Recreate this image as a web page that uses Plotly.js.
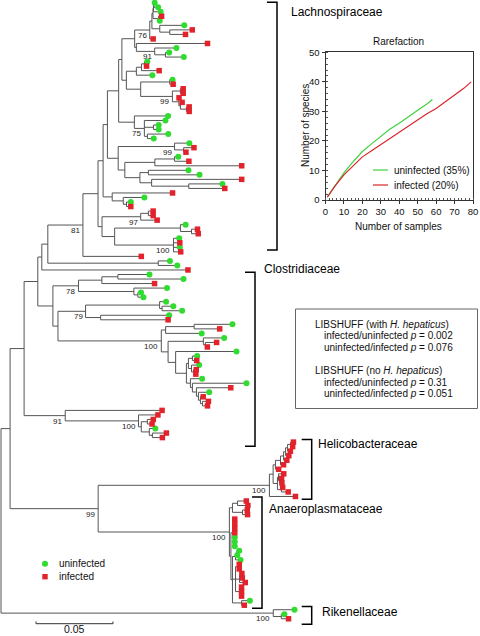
<!DOCTYPE html>
<html><head><meta charset="utf-8">
<script src="https://cdn.plot.ly/plotly-3.0.1.min.js"></script>
<style>html,body{margin:0;padding:0;background:#fff}#chart{width:480px;height:636px}</style>
</head><body><div id="chart"></div>
<script>
// ---------------- DATA ----------------
// Branch lengths in the Newick pieces are in 10^-3 substitutions per site.
const BRANCH_UNIT = 0.001;
// U = uninfected clone, I = infected clone; internal labels = bootstrap values
const lachnoTop = "(((((U:0.5,U:2.7):0.3,U:4.7):0.3,(I:2.0,U:0.8):3.6):0.7,(U:15.9,(I:14.6,I:10.2):6.5):5.1):1.4,I:2.2)76";
const lachno91 = "(I:46.2,(U:14.1,(U:2.4,U:11.9):7.0)91:11.9)";
const lachnoSmall = "(((U:1.8,I:1.3):2.0,I:11.5):3.3,U:10.4)";
const lachno99a = "((U:1.8,I:2.2):18.9,((I:1.8,I:1.8):5.2,(I:0.1,(I:1.1,(I:1.8,I:1.8):3.9):1.0):4.2)99:20.6)";
const lachno75 = "(U:21.9,(U:13.7,(U:3.4,U:3.4):5.9,(U:13.5,U:4.1):2.0)75:6.5)";
const lachno99b = "(U:9.6,(I:6.7,I:1.5):5.9)99";
const lachnoQ = "((U:2.4,I:9.3):12.8,I:56.4)";
const lachnoR = "((U:26.0,U:33.2):5.5,(I:58.5,(U:21.9,I:23.4):24.1):7.6)";
const lachnoZ = "(I:39.2,(U:13.7,(U:2.8,I:2.8):2.1):7.2)";
const lachno97 = "(((I:3.1,I:3.1):5.0,I:10.7)97:25.1,((U:3.4,(I:3.9,I:4.4):7.2):42.7,(U:3.7,I:4.1,U:4.1,I:4.7)100:38.2):8.2)";
const clost78 = "(((U:20.5,U:42.6):10.4,I:34.2):15.2,(U:21.5,(U:2.0,U:3.6):2.6):36.0)78";
const clost79 = "((U:4.2,(U:7.3,U:13.0):1.6):48.1,(U:44.5,I:43.8):9.8)79";
const clostA = "((U:24.9,I:16.6):18.5,U:23.4)";
const clostB = "(U:13.5,(I:7.3,I:1.3):1.3)";
const clostC = "(((U:3.1,I:2.8):2.6,(U:5.0,(I:1.8,I:1.5):1.3):2.0):1.3,(U:7.6,(U:35.1,(I:22.3,(U:7.0,(I:1.8,(I:3.9,I:3.3):1.3):1.3):1.3):2.6):1.3):2.6)";
const clade91 = "(I:62.9,(I:12.6,((I:3.9,I:3.1):3.9,(U:3.9,(I:9.1,I:6.5):2.0):5.2):1.8)100:47.6)91";
const helicoUp = "((((((I:1.8,I:1.3):2.0,I:1.8):1.3,I:2.1):1.3,I:2.1):2.0,I:2.0):3.3,I:2.1)";
const helicoLo = "((I:3.4,(I:1.3,I:1.5):0.7):0.7,(I:0.8,I:4.4):2.6)";
const anaeroTop = "((I:5.7,I:6.7):3.3,(I:3.1,I:3.3):6.5)";
const anaeroComb = "(I:0.5,I:0.5,I:0.5,I:0.5,U:0.5,U:0.5,U:0.5)";
const anaeroLowA = "((U:1.4,U:0.1):1.0,U:3.3)";
const anaeroLowB = "((I:1.1,I:1.1):1.3,((I:0.8,I:1.1):0.7,I:3.7):2.6,(I:1.3,I:1.3,I:1.3):2.6)";
const anaeroLowC = "(U:5.4,I:1.8)";
const rikenella = "(U:13.8,(U:2.0,I:4.7):5.2)100";

const rareSamplesUninf = [1, 5, 10, 15, 20, 25, 30, 35, 40, 45, 50, 55, 58];
const rareSpeciesUninf = [1, 4.8, 9.2, 13, 16.4, 19, 21.5, 24, 26, 28.3, 30.4, 32.5, 34];
const rareSamplesInf = [1, 5, 10, 15, 20, 25, 30, 35, 40, 45, 50, 55, 60, 65, 70, 75, 79];
const rareSpeciesInf = [1, 4.6, 8.5, 11.6, 14.6, 16.7, 18.8, 21, 23.1, 25.2, 27, 29.2, 31, 33.2, 35.5, 37.8, 40];
const rareNames = ['uninfected (35%)', 'infected (20%)'];

const cladeNames = ['Lachnospiraceae', 'Clostridiaceae', 'Helicobacteraceae', 'Anaeroplasmataceae', 'Rikenellaceae'];
const cladeTopLeaf = [-0.1, 59.5, 96.4, 109.1, 133.3];
const cladeBottomLeaf = [54.6, 97.9, 109.6, 133.7, 137.2];

const libshuffLines = [
  'LIBSHUFF (with <i>H. hepaticus</i>)',
  'infected/uninfected <i>p</i> = 0.002',
  'uninfected/infected <i>p</i> = 0.076',
  'LIBSHUFF (no <i>H. hepaticus</i>)',
  'infected/uninfected <i>p</i> = 0.31',
  'uninfected/infected <i>p</i> = 0.051'
];
const scaleBarLength = 0.05;
const groupNames = ['uninfected', 'infected'];

// ---------------- TREE ASSEMBLY ----------------
const nu133 = "(" + lachnoTop + ":9.8," + lachno91 + ":1.1)";
const n125 = "(" + lachnoSmall + ":6.5," + lachno99a + ":9.3)";
const n120 = "(" + nu133 + ":8.3," + n125 + ":2.9)";
const n117 = "(" + n120 + ":2.1," + lachno75 + ":10.2)";
const n123 = "(" + lachnoQ + ":19.5," + lachnoR + ":9.8)";
const n116 = "(" + lachno99b + ":36.6," + n123 + ":4.3)";
const n106 = "(" + n117 + ":7.3," + n116 + ":7.0)";
const n101 = "(" + n106 + ":2.8," + lachnoZ + ":5.9)";
const n96 = "(" + n101 + ":3.3," + lachno97 + ":2.6)";
const n81 = "(" + n96 + ":9.8,I:37.9)81";
const n46 = "(" + n81 + ":22.8,(U:7.6,U:12.4):71.7)";
const n40 = "(" + n46 + ":3.9,I:94.9)";
const n174 = "(U:39.5," + clostC + ":7.0)";
const n166 = "(" + clostB + ":22.9," + n174 + ":4.9)";
const n100c = "(" + clostA + ":2.8," + n166 + ":4.4)100";
const n56 = "(" + clost79 + ":17.9," + n100c + ":67.1)";
const nE = "(" + clost78 + ":16.6," + n56 + ":3.3)";
const nC = "(" + n40 + ":2.6," + nE + ":9.8)";
const nB = "(" + nC + ":8.9," + clade91 + ":26.7)";
const helico = "((" + helicoUp + ":1.5," + helicoLo + ":2.8):2.4,I:16.9)100";
const anaeroLow = "(" + anaeroLowA + ":2.0," + anaeroLowB + ":2.0," + anaeroLowC + ":5.9)";
const anaero = "(" + anaeroTop + ":2.0,(" + anaeroComb + ":2.0," + anaeroLow + ":1.0):1.0)100";
const n99 = "(" + helico + ":111.2," + anaero + ":85.2)99";
const nA = "(" + nB + ":9.1," + n99 + ":57.2)";
const treeNewick = "(" + nA + ":5.9," + rikenella + ":176.8);";

function parseNewick(s) {
  let i = 0;
  function node() {
    const n = {children: [], name: '', len: 0};
    if (s[i] === '(') {
      i++;
      while (true) {
        n.children.push(node());
        if (s[i] === ',') { i++; continue; }
        if (s[i] === ')') { i++; break; }
        break;
      }
    }
    let name = '';
    while (i < s.length && !',():;'.includes(s[i])) name += s[i++];
    n.name = name.trim();
    if (s[i] === ':') {
      i++; let num = '';
      while (i < s.length && !',();'.includes(s[i])) num += s[i++];
      n.len = parseFloat(num);
    }
    return n;
  }
  return node();
}
const root = parseNewick(treeNewick);
root.len = 0;
let leafCounter = 0;
function placeNodes(n, x0) {
  n.x = x0 + n.len * BRANCH_UNIT;
  if (!n.children.length) { n.y = leafCounter++; }
  else {
    n.children.forEach(c => placeNodes(c, n.x));
    n.y = (n.children[0].y + n.children[n.children.length - 1].y) / 2;
  }
}
placeNodes(root, 0);

const bx = [], by = [];
const ux = [], uy = [], ix = [], iy = [];
const boot = [];
function collect(n, px) {
  if (px !== null) { bx.push(px, n.x, null); by.push(n.y, n.y, null); }
  if (n.children.length) {
    bx.push(n.x, n.x, null);
    by.push(n.children[0].y, n.children[n.children.length - 1].y, null);
    n.children.forEach(c => collect(c, n.x));
    if (n.name) boot.push({x: n.x, y: n.y, t: n.name});
  } else {
    if (n.name === 'U') { ux.push(n.x); uy.push(n.y); } else { ix.push(n.x); iy.push(n.y); }
  }
}
collect(root, null);

// ---------------- FIGURE ----------------
const W = 480, H = 636;
const PX_PER_SUB = 77 / 0.05;          // from scale bar
const LEAF_PX = 4.53, LEAF0_PX = 2.7, ROOT_PX = 1;
const px = v => v / W, py = v => 1 - v / H;
const FONT = 'Liberation Sans, Arial, Helvetica, sans-serif';
const GREEN = '#2fdc2f', RED = '#e2232b';

const traces = [
  {type: 'scatter', mode: 'lines', x: bx, y: by, xaxis: 'x', yaxis: 'y',
   line: {color: '#555', width: 1}, hoverinfo: 'skip', showlegend: false},
  {type: 'scatter', mode: 'markers', x: ux, y: uy, name: groupNames[0], showlegend: false,
   marker: {symbol: 'circle', size: 6, color: GREEN, line: {width: 0}}},
  {type: 'scatter', mode: 'markers', x: ix, y: iy, name: groupNames[1], showlegend: false,
   marker: {symbol: 'square', size: 5.5, color: RED, line: {width: 0}}},
  {type: 'scatter', mode: 'lines', x: rareSamplesUninf, y: rareSpeciesUninf, xaxis: 'x2', yaxis: 'y2',
   name: rareNames[0], line: {color: '#3fd13f', width: 1.2}, showlegend: false},
  {type: 'scatter', mode: 'lines', x: rareSamplesInf, y: rareSpeciesInf, xaxis: 'x2', yaxis: 'y2',
   name: rareNames[1], line: {color: '#d8262e', width: 1.2}, showlegend: false}
];

const xr0 = -ROOT_PX / PX_PER_SUB, xr1 = (W - ROOT_PX) / PX_PER_SUB;
const yr0 = -LEAF0_PX / LEAF_PX, yr1 = (H - LEAF0_PX) / LEAF_PX;

const shapes = [], annotations = [];
boot.forEach(b => annotations.push({xref: 'x', yref: 'y', x: b.x, y: b.y, text: b.t, showarrow: false,
  xanchor: 'right', yanchor: 'top', xshift: -1, yshift: 1, font: {family: FONT, size: 8, color: '#222'}}));

const bracketX = [277, 255, 311.7, 262, 311.7];
const labelX = [289, 262, 316, 266.7, 320];
const labelY = [12, 268.5, 444.3, 509, 612.3];
cladeNames.forEach((name, k) => {
  const xb = px(bracketX[k]), xt = px(bracketX[k] - 10);
  shapes.push({type: 'path', xref: 'paper', yref: 'y',
    path: `M ${xt} ${cladeTopLeaf[k]} L ${xb} ${cladeTopLeaf[k]} L ${xb} ${cladeBottomLeaf[k]} L ${xt} ${cladeBottomLeaf[k]}`,
    line: {color: '#000', width: 1.5}});
  annotations.push({xref: 'paper', yref: 'paper', x: px(labelX[k]), y: py(labelY[k]), text: name,
    showarrow: false, xanchor: 'left', yanchor: 'middle', font: {family: FONT, size: 12, color: '#000'}});
});

const sbX0 = (36 - ROOT_PX) / PX_PER_SUB;
shapes.push({type: 'path', xref: 'x', yref: 'paper',
  path: `M ${sbX0} ${py(621.5)} L ${sbX0} ${py(623.7)} L ${sbX0 + scaleBarLength} ${py(623.7)} L ${sbX0 + scaleBarLength} ${py(621.5)}`,
  line: {color: '#333', width: 1}});
annotations.push({xref: 'x', yref: 'paper', x: sbX0 + scaleBarLength / 2, y: py(636), text: String(scaleBarLength),
  showarrow: false, xanchor: 'center', yanchor: 'bottom', borderpad: 0, font: {family: FONT, size: 10.5, color: '#111'}});

shapes.push({type: 'circle', xref: 'paper', yref: 'paper', x0: px(42), x1: px(48), y0: py(566.7), y1: py(560.7),
  fillcolor: GREEN, line: {width: 0}});
shapes.push({type: 'rect', xref: 'paper', yref: 'paper', x0: px(42.3), x1: px(47.7), y0: py(579.4), y1: py(574),
  fillcolor: RED, line: {width: 0}});
annotations.push({xref: 'paper', yref: 'paper', x: px(57), y: py(563.7), text: groupNames[0], showarrow: false,
  xanchor: 'left', yanchor: 'middle', font: {family: FONT, size: 10, color: '#111'}});
annotations.push({xref: 'paper', yref: 'paper', x: px(57), y: py(576.7), text: groupNames[1], showarrow: false,
  xanchor: 'left', yanchor: 'middle', font: {family: FONT, size: 10, color: '#111'}});

shapes.push({type: 'rect', xref: 'paper', yref: 'paper', x0: px(295.5), x1: px(477.5), y0: py(408.5), y1: py(309),
  line: {color: '#666', width: 1}, fillcolor: 'rgba(0,0,0,0)'});
const libY = [324, 335.5, 347, 370.5, 382, 393.5];
const libX = [313, 322, 322, 313, 322, 322];
libshuffLines.forEach((t, k) => annotations.push({xref: 'paper', yref: 'paper', x: px(libX[k]), y: py(libY[k]),
  text: t, showarrow: false, xanchor: 'left', yanchor: 'middle', font: {family: FONT, size: 10, color: '#111'}}));

annotations.push({xref: 'paper', yref: 'paper', x: px(398.5), y: py(42), text: 'Rarefaction', showarrow: false,
  xanchor: 'center', yanchor: 'middle', font: {family: FONT, size: 10, color: '#111'}});
annotations.push({xref: 'paper', yref: 'paper', x: px(398.5), y: py(227), text: 'Number of samples', showarrow: false,
  xanchor: 'center', yanchor: 'middle', font: {family: FONT, size: 10, color: '#111'}});
annotations.push({xref: 'paper', yref: 'paper', x: px(305), y: py(126), text: 'Number of species', showarrow: false,
  textangle: -90, xanchor: 'center', yanchor: 'middle', font: {family: FONT, size: 10, color: '#111'}});
[[170, '#3fd13f'], [185, '#d8262e']].forEach((d, k) => {
  shapes.push({type: 'line', xref: 'paper', yref: 'paper', x0: px(373), x1: px(388), y0: py(d[0]), y1: py(d[0]),
    line: {color: d[1], width: 1.2}});
  annotations.push({xref: 'paper', yref: 'paper', x: px(392), y: py(d[0]), text: rareNames[k], showarrow: false,
    xanchor: 'left', yanchor: 'middle', font: {family: FONT, size: 10, color: '#111'}});
});

const insetAxis = {showline: true, linecolor: '#333', linewidth: 1, mirror: true, ticks: 'outside', ticklen: 3,
  tickcolor: '#333', showgrid: false, zeroline: false, tick0: 0, dtick: 10, fixedrange: true,
  tickfont: {family: FONT, size: 9.5, color: '#111'},
  minor: {ticks: 'inside', ticklen: 2, dtick: 2, tickcolor: '#555', showgrid: false}};

const figLayout = {
  width: W, height: H, margin: {l: 0, r: 0, t: 0, b: 0}, paper_bgcolor: '#fff', plot_bgcolor: 'rgba(0,0,0,0)',
  showlegend: false, font: {family: FONT},
  xaxis: {range: [xr0, xr1], visible: false, fixedrange: true, domain: [0, 1]},
  yaxis: {range: [yr1, yr0], visible: false, fixedrange: true, domain: [0, 1]},
  xaxis2: Object.assign({}, insetAxis, {range: [0, 80], anchor: 'y2', domain: [px(325.5), px(473)]}),
  yaxis2: Object.assign({}, insetAxis, {range: [0, 50], anchor: 'x2', domain: [py(200), py(52.3)]}),
  shapes: shapes, annotations: annotations
};
Plotly.newPlot('chart', traces, figLayout, {staticPlot: true, displayModeBar: false});
</script></body></html>
